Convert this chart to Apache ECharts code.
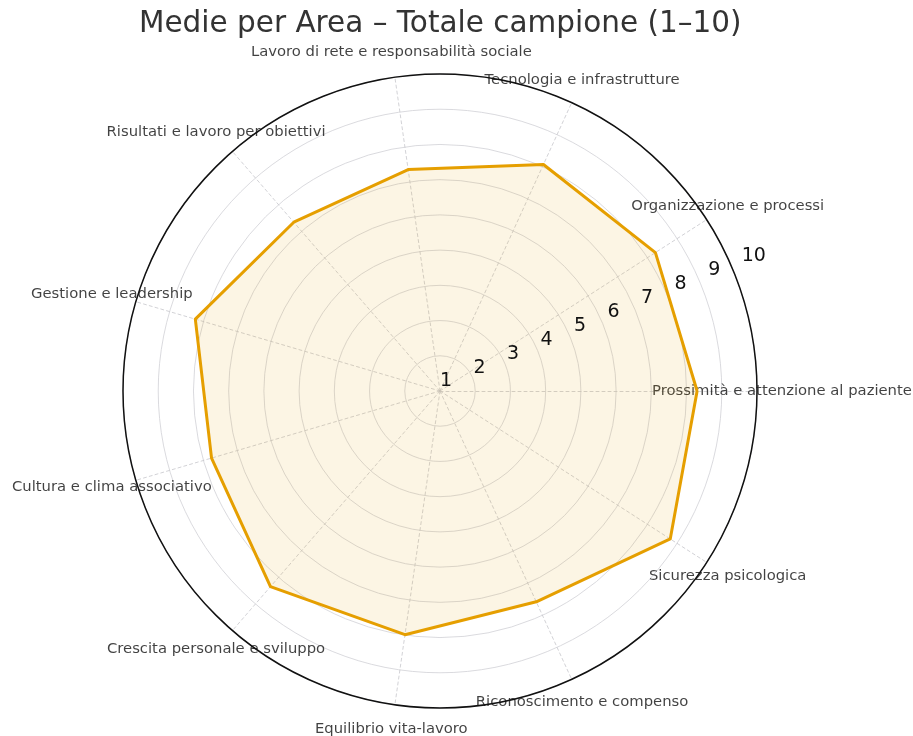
<!DOCTYPE html>
<html><head><meta charset="utf-8">
<script src="https://cdn.jsdelivr.net/npm/echarts@6/dist/echarts.min.js"></script>
<style>html,body{margin:0;padding:0;background:#fff}#c{width:913px;height:736px}</style>
</head><body><div id="c"></div>
<script>
const chartTitle = 'Medie per Area – Totale campione (1–10)';
const categories = [
  'Prossimità e attenzione al paziente',
  'Organizzazione e processi',
  'Tecnologia e infrastrutture',
  'Lavoro di rete e responsabilità sociale',
  'Risultati e lavoro per obiettivi',
  'Gestione e leadership',
  'Cultura e clima associativo',
  'Crescita personale e sviluppo',
  'Equilibrio vita-lavoro',
  'Riconoscimento e compenso',
  'Sicurezza psicologica'
];
const values = [8.30, 8.27, 8.07, 7.35, 7.34, 8.24, 7.76, 8.35, 7.99, 7.58, 8.77];
const tickLabels = ['1','2','3','4','5','6','7','8','9','10'];
const scaleMin = 1, scaleMax = 10;

const FONT = 'DejaVu Sans';
const CX = 440, CY = 391, R = 317;

const chart = echarts.init(document.getElementById('c'), null, {renderer:'canvas'});
const option = {
  backgroundColor: '#ffffff',
  animation: false,
  title: {
    text: chartTitle, left: 134, top: 4,
    textStyle: {fontFamily: FONT, fontSize: 29.5, fontWeight: 'normal', color: '#333333'}
  },
  radar: {
    center: [CX, CY], radius: R, startAngle: 0, shape: 'circle', splitNumber: 9,
    indicator: categories.map(c => ({name: c, min: scaleMin, max: scaleMax})),
    axisName: {show: false},
    axisLine: {lineStyle: {color: '#c6c6cc', type: [3, 3], width: 0.8}},
    splitLine: {lineStyle: {color: '#d0d0d6', width: 0.8}},
    splitArea: {show: false},
    axisLabel: {show: false},
    axisTick: {show: false}
  },
  polar: [
    {center: [CX, CY], radius: R * 1.03},
    {center: [CX, CY], radius: R + 25},
    {center: [CX, CY], radius: R}
  ],
  angleAxis: [
    {polarIndex: 0, type: 'value', min: 0, max: 360, startAngle: 22.5, clockwise: false, show: true,
     axisLine: {show: false}, axisTick: {show: false}, axisLabel: {show: false}, splitLine: {show: false}},
    {polarIndex: 1, type: 'category', data: categories, startAngle: 0, clockwise: false, boundaryGap: false,
     axisLine: {show: false}, axisTick: {show: false}, axisLabel: {show: false}, splitLine: {show: false}},
    {polarIndex: 2, type: 'value', min: 0, max: 360, startAngle: 0, clockwise: false, z: 10,
     axisLine: {lineStyle: {color: '#111111', width: 1.5}}, axisTick: {show: false},
     axisLabel: {show: false}, splitLine: {show: false}}
  ],
  radiusAxis: [
    {polarIndex: 0, type: 'value', min: scaleMin, max: scaleMax, interval: 1, z: 10,
     axisLine: {show: false}, axisTick: {show: false}, splitLine: {show: false},
     axisLabel: {show: true, formatter: v => tickLabels[Math.round(v) - 1], fontFamily: FONT, fontSize: 19,
       color: '#111111', margin: 0, align: 'left', verticalAlign: 'bottom'}},
    {polarIndex: 1, type: 'value', min: 0, max: 1, show: false},
    {polarIndex: 2, type: 'value', min: scaleMin, max: scaleMax, show: false}
  ],
  series: [
    {type: 'radar', symbol: 'none', z: 3,
     data: [{value: values, name: 'Totale campione'}],
     lineStyle: {color: '#E69F00', width: 3},
     areaStyle: {color: 'rgba(230,159,0,0.15)'}},
    {type: 'scatter', coordinateSystem: 'polar', polarIndex: 1, clip: false, silent: true,
     symbolSize: 1, itemStyle: {color: 'rgba(0,0,0,0)'},
     data: categories.map(c => ({name: c, value: [1, c]})),
     label: {show: true, position: 'inside', formatter: '{b}', fontFamily: FONT, fontSize: 14.8, color: '#111111'}}
  ]
};
chart.setOption(option);
</script>
</body></html>
